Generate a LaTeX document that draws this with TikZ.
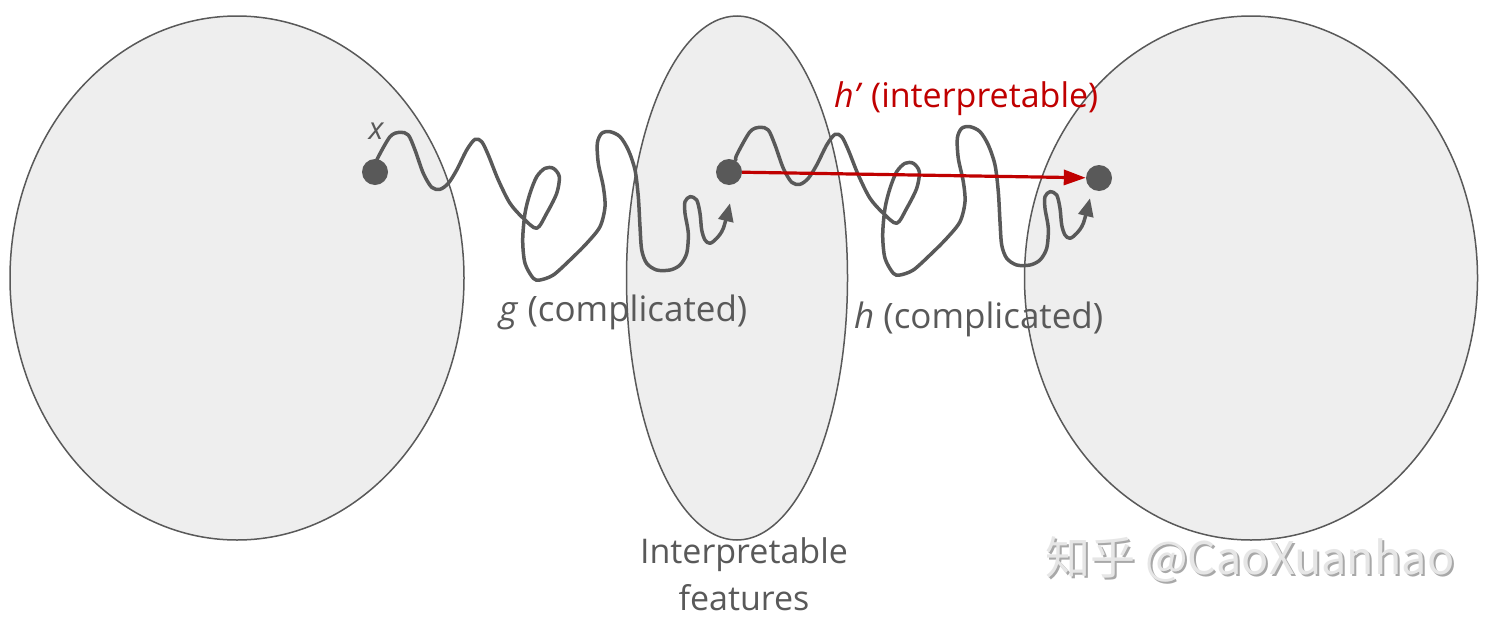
\documentclass[tikz,border=0pt]{standalone}
\usepackage{fontspec}
\setmainfont{Open Sans}
\newfontfamily\cjk{Noto Sans CJK SC}
\usetikzlibrary{arrows.meta,shapes.geometric}
\definecolor{dg}{HTML}{595959}
\definecolor{lg}{HTML}{EEEEEE}
\definecolor{rd}{HTML}{C00000}
\definecolor{wmfg}{HTML}{E6E6E6}
\definecolor{wmbg}{HTML}{A8A8A8}
\begin{document}
\begin{tikzpicture}[x=1pt,y=-1pt,
  space/.style={ellipse,draw=dg,fill=lg,line width=1.5pt,inner sep=0pt},
  dot/.style={circle,fill=dg,minimum size=26pt,inner sep=0pt},
  wire/.style={draw=dg,line width=3.5pt,line cap=round,line join=round,
    -{Triangle[length=18pt,width=15pt]}},
  redarrow/.style={draw=rd,line width=3.2pt,-{Triangle[length=22pt,width=15pt]}},
  lbl/.style={text=dg,font=\fontsize{34}{40}\selectfont,inner sep=0pt},
  squiggle/.pic={
    \draw[wire] plot[smooth,tension=0.5] coordinates{
      (376,165) (376.7,160) (390,136.7) (400,132.3) (408.3,135) (415,150)
      (423.3,173.3) (431.7,187.3) (440,189.3) (448.3,183.3) (456.7,170)
      (466.7,150) (475,139.3) (481.7,141.7) (488.3,155) (498.3,180)
      (510,203.3) (523.3,218.3) (536.7,228.3) (546.7,213.3) (556.7,193.3)
      (559.3,176.7) (553.3,168.3) (545,168.3) (536.7,176.7) (530,193.3)
      (525,213.3) (522.7,240) (525,263.3) (533.3,278.3) (540,280)
      (553.3,275) (570,260) (586.7,243.3) (600,226.7) (605,206.7)
      (603.3,186.7) (598.3,163.3) (597.3,143.3) (601.7,133.3) (610,131.7)
      (620,136.7) (628.3,150) (635,170) (638.3,196.7) (640,226.7)
      (641.7,250) (646.7,263.3) (656.7,270) (670,270) (680,265)
      (686.7,253.3) (688.3,233.3) (685,213.3) (685,201.7) (690,196.7)
      (696.7,200) (700,213.3) (701.7,230) (705,240) (710,243.3)
      (716.7,238.3) (723.3,228.3) (730,203.3)};
  }]
\clip (0,0) rectangle (1485,616);
\fill[white] (0,0) rectangle (1485,616);
% spaces
\node[space,minimum width=454pt,minimum height=524pt] (input) at (237,278) {};
\node[space,minimum width=221pt,minimum height=524pt] (feat) at (737,278) {};
\node[space,minimum width=453pt,minimum height=524pt] (output) at (1251,278) {};
% squiggly maps
\pic (g) at (0,0) {squiggle};
\pic (h) at (360,-5) {squiggle};
% points
\node[dot] (d1) at (375,172) {};
\node[dot] (d2) at (729,172) {};
\node[dot] (d3) at (1099,178) {};
\draw[redarrow] (d2) -- (d3);
% labels
\node[lbl,font=\fontsize{31}{36}\selectfont\itshape] (xl) at (376,131) {x};
\node[lbl,anchor=base west,font=\fontsize{35}{40}\selectfont] (gl) at (499,321) {\textit{g} (complicated)};
\node[lbl,anchor=base west,font=\fontsize{35}{40}\selectfont] (hl) at (854,328) {\textit{h} (complicated)};
\node[lbl,anchor=base west,text=rd] (hpl) at (834,107) {\textit{h’} (interpretable)};
\node[lbl,anchor=base] (il1) at (744,563) {Interpretable};
\node[lbl,anchor=base] (il2) at (744,610) {features};
% watermark
\node[anchor=base west,inner sep=0pt,text=wmbg,font=\cjk\fontsize{45}{50}\selectfont] (wms) at (1047,576) {知乎 @CaoXuanhao};
\node[anchor=base west,inner sep=0pt,text=wmfg,font=\cjk\fontsize{45}{50}\selectfont] (wm) at (1045,574) {知乎 @CaoXuanhao};
\end{tikzpicture}
\end{document}
